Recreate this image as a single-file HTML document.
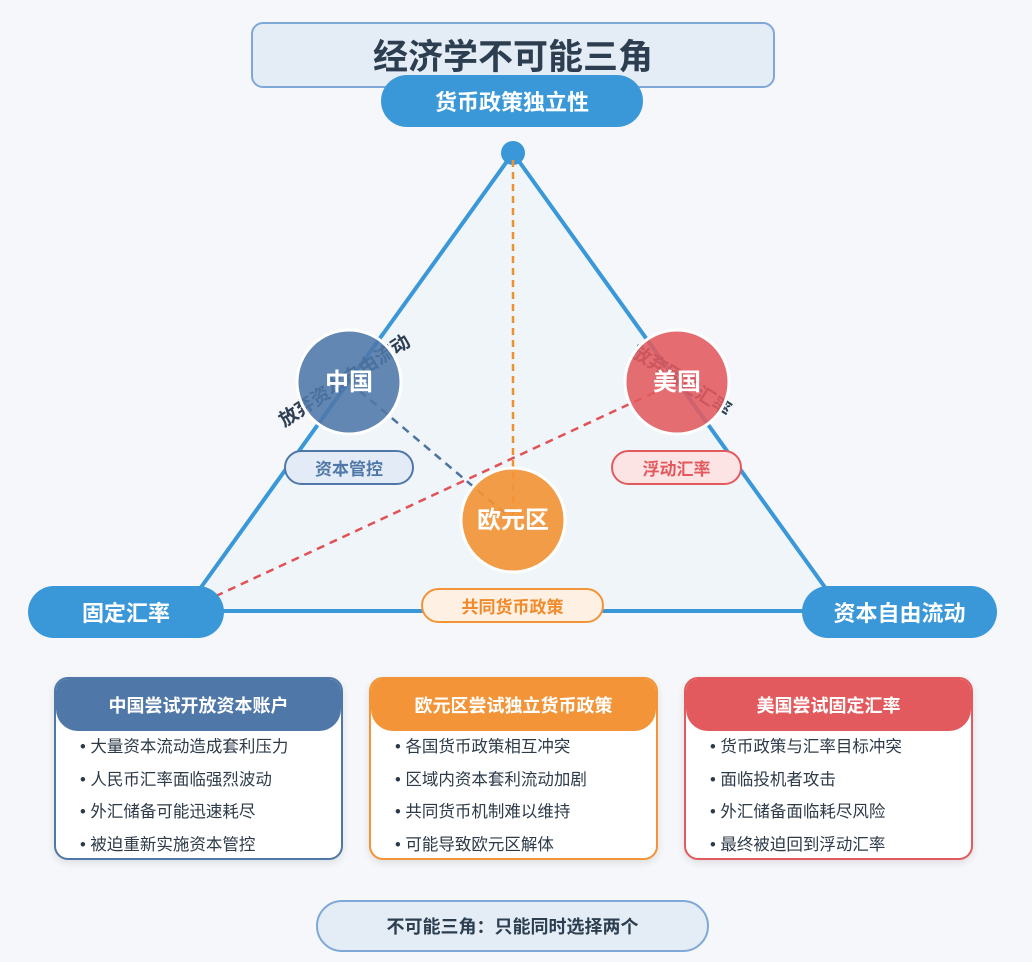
<!DOCTYPE html>
<html><head><meta charset="utf-8"><style>
body{margin:0;width:1032px;height:962px;background:#f5f7fa;font-family:"Liberation Sans","Noto Sans CJK SC",sans-serif;position:relative;overflow:hidden}
.abs{position:absolute;box-sizing:border-box;display:flex;align-items:center;justify-content:center;font-weight:bold}
.pill{background:#3a98d9;color:#fff;border-radius:26px;font-size:22px}
.card{position:absolute;top:677px;width:289px;height:183px;border-radius:14px;background:#fff;border:2.5px solid;box-sizing:border-box;overflow:hidden;box-shadow:0 3px 8px rgba(0,0,0,.1)}
.card .h{height:52px;color:#fff;font-weight:bold;font-size:18px;display:flex;align-items:center;justify-content:center;border-radius:0 0 22px 22px}
.card ul{margin:0;padding:0 0 0 24px;list-style:none;font-size:16.5px;color:#2d3a48}
.card li{height:32.5px;line-height:32.5px}
.card li:before{content:"• ";}
</style></head><body>
<div class="abs" style="left:251px;top:22px;width:524px;height:66px;background:#e4edf6;border:2px solid #7fa8d9;border-radius:12px;font-size:35px;color:#2c3e50;padding-bottom:2px">经济学不可能三角</div>
<svg width="1032" height="962" style="position:absolute;left:0;top:0">
<polygon points="513,153 184,611 842,611" fill="#eef4f9" fill-opacity="0.8" stroke="#3a98d9" stroke-width="4" stroke-linejoin="round"/>
<circle cx="513" cy="153" r="12" fill="#3a98d9"/>
<line x1="513" y1="160" x2="513" y2="520" stroke="#f0912f" stroke-width="2.5" stroke-dasharray="7,5"/>
<line x1="190" y1="608" x2="677" y2="382" stroke="#e05256" stroke-width="2.5" stroke-dasharray="8,6"/>
<line x1="349" y1="382" x2="513" y2="520" stroke="#4e73a0" stroke-width="2.5" stroke-dasharray="8,6"/>
<text x="348" y="386" transform="rotate(-33 348 386)" font-size="19" font-weight="bold" fill="#2c3e50" text-anchor="middle" font-family="Liberation Sans,Noto Sans CJK SC,sans-serif">放弃资本自由流动</text>
<text x="678" y="386" transform="rotate(33 678 386)" font-size="19" font-weight="bold" fill="#2c3e50" text-anchor="middle" font-family="Liberation Sans,Noto Sans CJK SC,sans-serif">放弃固定汇率</text>
<circle cx="349" cy="382" r="52" fill="#4f77a8" fill-opacity="0.88" stroke="#fff" stroke-width="3"/>
<circle cx="677" cy="382" r="52" fill="#e35a5e" fill-opacity="0.88" stroke="#fff" stroke-width="3"/>
<circle cx="513" cy="520" r="52" fill="#f29437" fill-opacity="0.92" stroke="#fff" stroke-width="3"/>
<g font-size="24" font-weight="bold" fill="#fff" text-anchor="middle" font-family="Liberation Sans,Noto Sans CJK SC,sans-serif">
<text x="349" y="390">中国</text><text x="677" y="390">美国</text><text x="513" y="528">欧元区</text></g>
</svg>
<div class="abs pill" style="left:381px;top:75px;width:262px;height:52px">货币政策独立性</div>
<div class="abs pill" style="left:28px;top:586px;width:196px;height:52px">固定汇率</div>
<div class="abs pill" style="left:802px;top:586px;width:195px;height:52px">资本自由流动</div>
<div class="abs" style="left:284px;top:450px;width:130px;height:35px;border:2px solid #4f77a8;background:#e3ecf6;color:#4f77a8;border-radius:18px;font-size:17px">资本管控</div>
<div class="abs" style="left:611px;top:450px;width:131px;height:35px;border:2px solid #e35a5e;background:#fde4e4;color:#e35a5e;border-radius:18px;font-size:17px">浮动汇率</div>
<div class="abs" style="left:421px;top:588px;width:183px;height:35px;border:2px solid #f29437;background:#fef0e2;color:#f08a2a;border-radius:18px;font-size:17px">共同货币政策</div>
<div class="card" style="left:54px;border-color:#4f77a8"><div class="h" style="background:#4f77a8">中国尝试开放资本账户</div><ul><li>大量资本流动造成套利压力</li><li>人民币汇率面临强烈波动</li><li>外汇储备可能迅速耗尽</li><li>被迫重新实施资本管控</li></ul></div>
<div class="card" style="left:369px;border-color:#f29437"><div class="h" style="background:#f29437">欧元区尝试独立货币政策</div><ul><li>各国货币政策相互冲突</li><li>区域内资本套利流动加剧</li><li>共同货币机制难以维持</li><li>可能导致欧元区解体</li></ul></div>
<div class="card" style="left:684px;border-color:#e35a5e"><div class="h" style="background:#e35a5e">美国尝试固定汇率</div><ul><li>货币政策与汇率目标冲突</li><li>面临投机者攻击</li><li>外汇储备面临耗尽风险</li><li>最终被迫回到浮动汇率</li></ul></div>
<div class="abs" style="left:316px;top:900px;width:393px;height:52px;background:#e4edf6;border:2px solid #7fa8d9;border-radius:26px;font-size:18px;color:#2c3e50">不可能三角：只能同时选择两个</div>
</body></html>
